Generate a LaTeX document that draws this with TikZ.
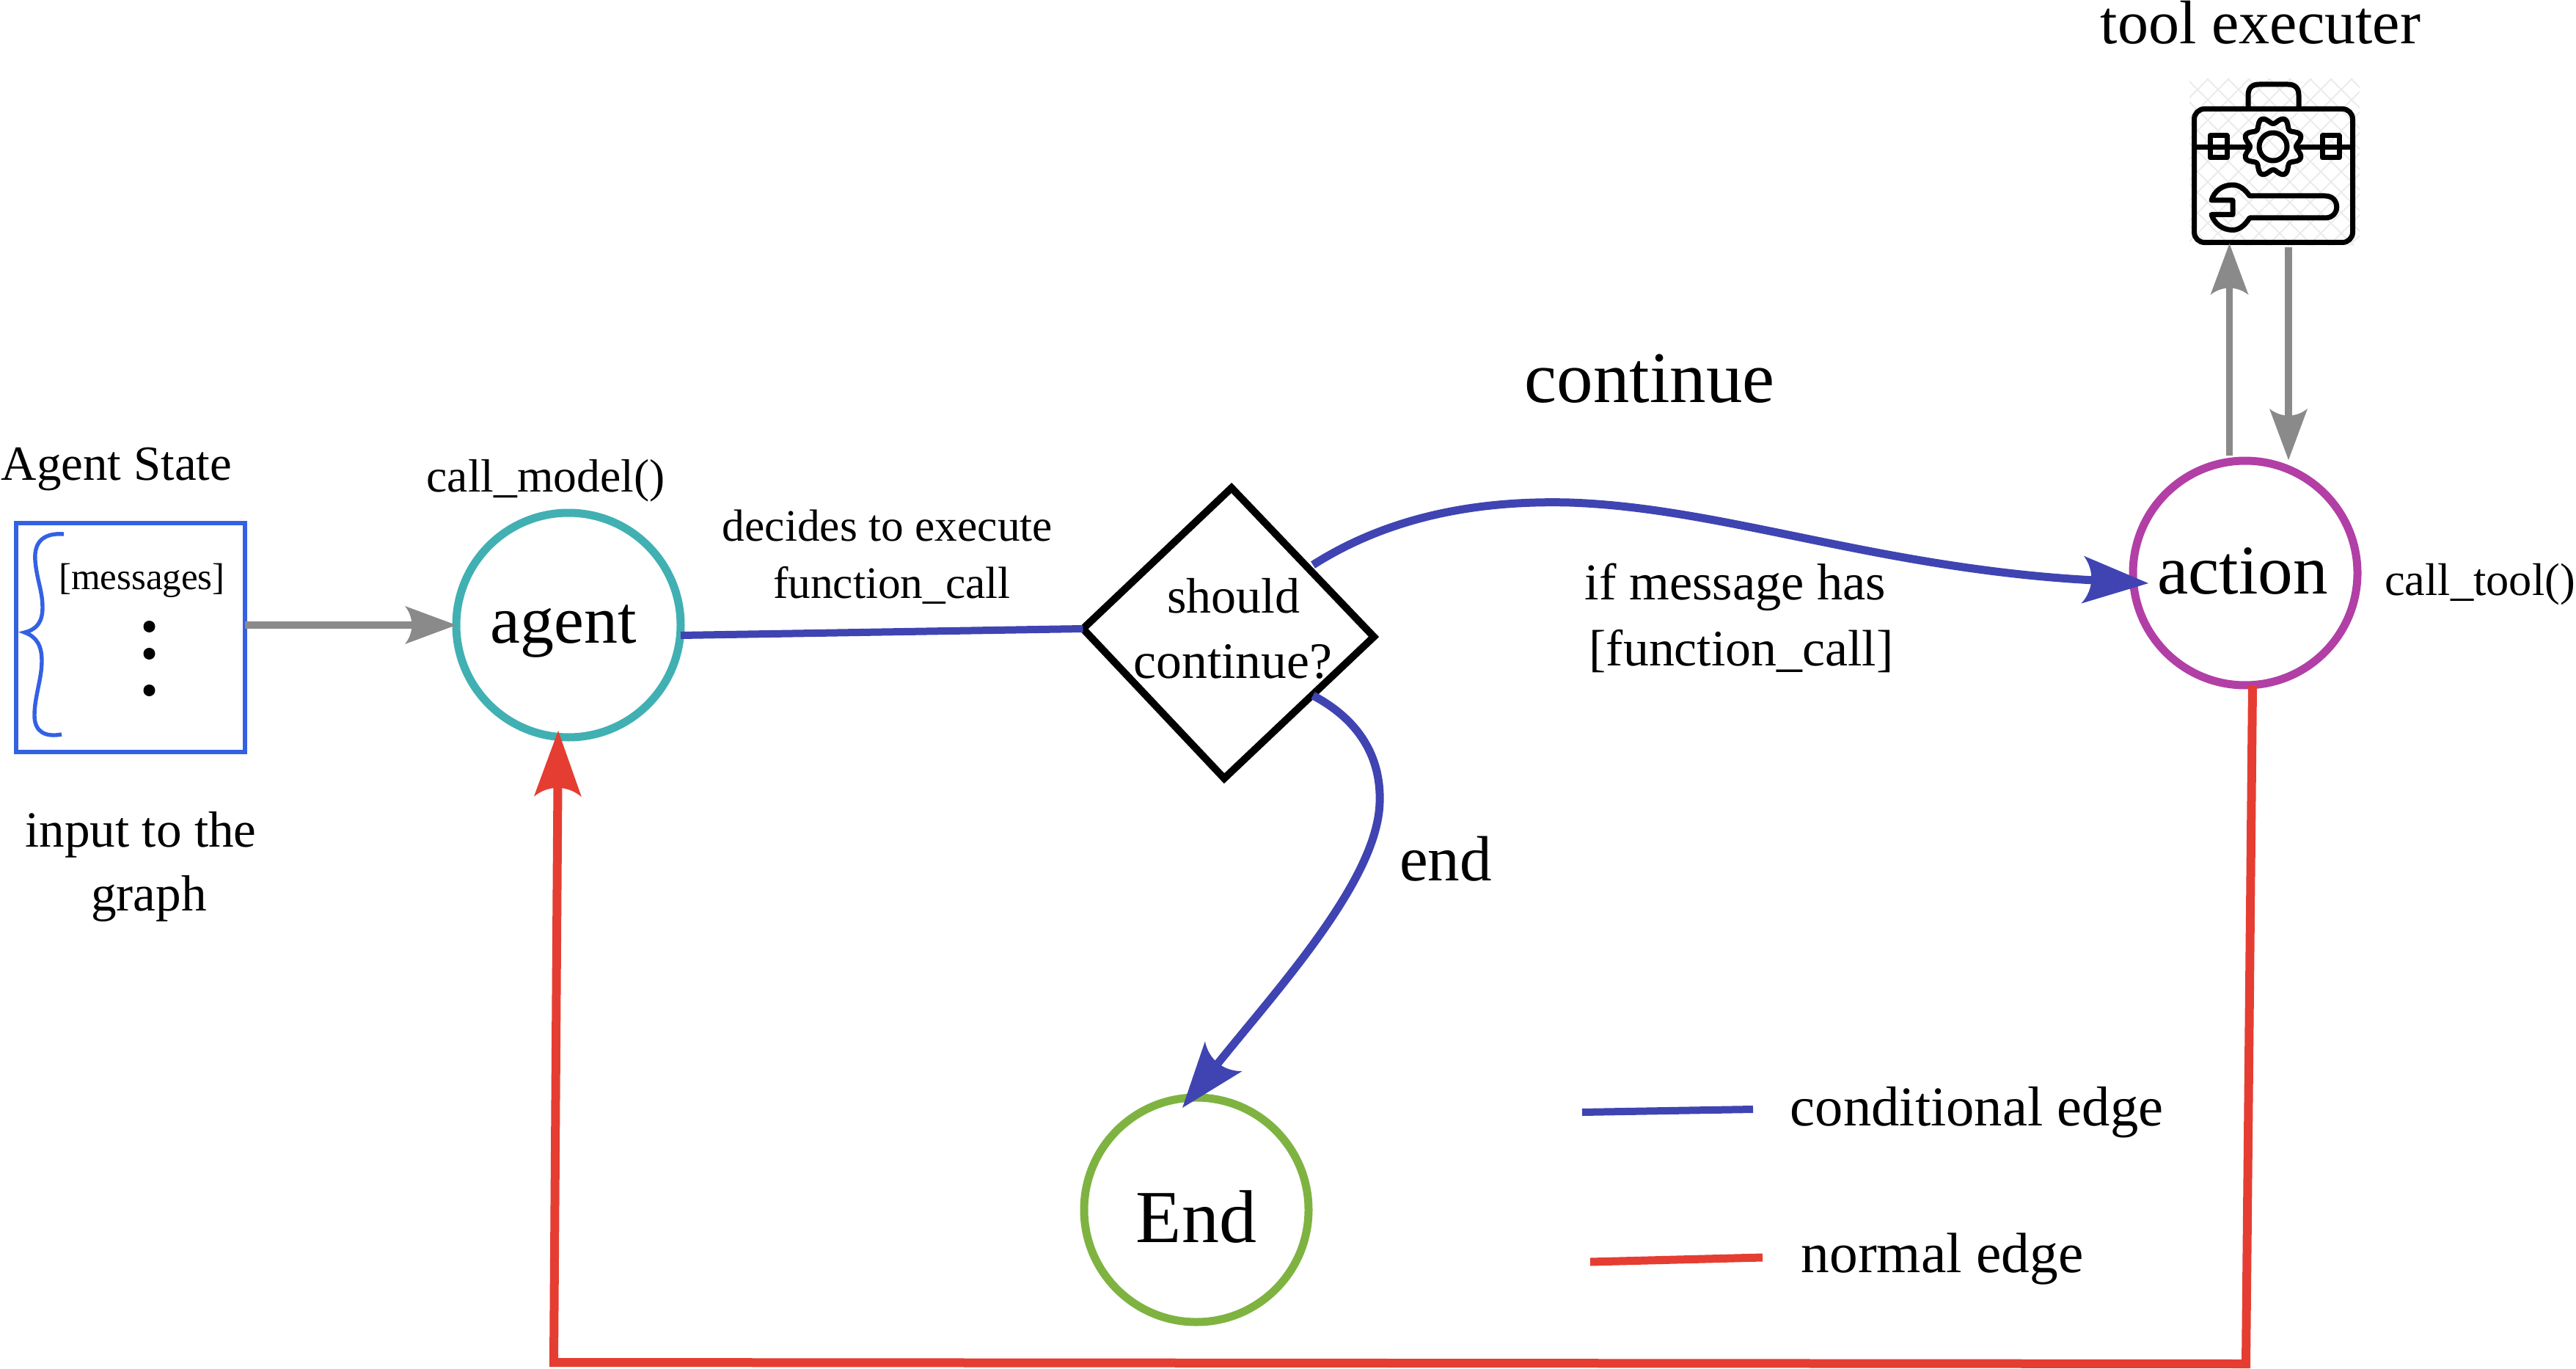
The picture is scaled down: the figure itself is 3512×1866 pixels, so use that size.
\documentclass[tikz,border=0pt]{standalone}
\usepackage{fontspec}
\setmainfont{Liberation Serif}
\usetikzlibrary{arrows.meta}
\definecolor{edgeblue}{HTML}{3F44B2}
\definecolor{edgered}{HTML}{E53D32}
\definecolor{edgegrey}{HTML}{8A8A8A}
\definecolor{boxblue}{HTML}{3461E3}
\definecolor{agentteal}{HTML}{41B0B3}
\definecolor{actionpurple}{HTML}{B23FA5}
\definecolor{endgreen}{HTML}{7FB341}
\newcommand\fsz[1]{\fontsize{#1}{#1}\selectfont}
\newcommand\drop[2]{\raisebox{0pt}[#1][0pt]{#2}}
\pgfdeclarearrow{
  name=CurvedBack,
  parameters={\the\pgfarrowlength,\the\pgfarrowwidth},
  setup code={
    \pgfarrowssettipend{0pt}
    \pgfarrowssetlineend{-0.85\pgfarrowlength}
    \pgfarrowssetbackend{-\pgfarrowlength}
    \pgfarrowssetvisualbackend{-0.85\pgfarrowlength}
    \pgfarrowssavethe\pgfarrowlength
    \pgfarrowssavethe\pgfarrowwidth
  },
  drawing code={
    \pgfpathmoveto{\pgfqpoint{0pt}{0pt}}
    \pgfpathlineto{\pgfpoint{-\pgfarrowlength}{0.5\pgfarrowwidth}}
    \pgfpathcurveto
      {\pgfpoint{-0.82\pgfarrowlength}{0.2\pgfarrowwidth}}
      {\pgfpoint{-0.82\pgfarrowlength}{-0.2\pgfarrowwidth}}
      {\pgfpoint{-\pgfarrowlength}{-0.5\pgfarrowwidth}}
    \pgfpathclose
    \pgfusepathqfill
  },
  defaults={length=45pt,width=32pt}
}
\tikzset{
  lab/.style={inner sep=0pt,outer sep=0pt,anchor=base,text=black},
  statecircle/.style={circle,draw=#1,line width=5.5pt,minimum size=153pt,inner sep=0pt,outer sep=0pt,text=black},
  greyedge/.style={draw=edgegrey,line width=4.8pt,-{CurvedBack[length=35pt,width=26pt]}},
  blueedge/.style={draw=edgeblue,line width=5pt},
  blueedgetip/.style={draw=edgeblue,line width=5.5pt,-{CurvedBack[length=45pt,width=32.5pt]}},
  rededge/.style={draw=edgered,line width=6pt},
  icon/.style={draw=black,line width=3.5pt,line join=round,line cap=round},
}
\begin{document}
\begin{tikzpicture}[x=.5pt,y=-.5pt]
\useasboundingbox (0,0) rectangle (3512,1866);
% toolbox background hatch
\begin{scope}
\clip (2985,108) rectangle (3217,335);
\foreach \o in {0,28,...,560}{
  \draw[draw=black!8,line width=1pt] (2750+\o,100) -- (2750+\o+240,340);
  \draw[draw=black!8,line width=1pt] (2990+\o,100) -- (2990+\o-240,340);
}
\end{scope}
% toolbox icon
\node[inner sep=0pt,outer sep=0pt,minimum width=108pt,minimum height=91pt,draw=black,line width=3.5pt,rounded corners=7pt] (tool) at (3099.5,239.5) {};
\draw[icon] (3065,148) -- (3065,130) .. controls (3065,120) and (3070,115) .. (3080,115) -- (3119,115) .. controls (3129,115) and (3134,120) .. (3134,130) -- (3134,148);
\draw[icon] (2995,201) -- (3062,201);
\draw[icon] (3137,201) -- (3204,201);
\draw[icon] (3013,185) rectangle (3036,215);
\draw[icon] (3166,185) rectangle (3189,215);
\draw[icon] plot[domain=0:360,samples=145] ({3099+(36-4.5*cos(8*\x))*cos(\x)},{200+(36-4.5*cos(8*\x))*sin(\x)}) -- cycle;
\draw[icon] (3099,200) circle (19);
\draw[icon] (3067,267) -- (3170,267) .. controls (3191,267) and (3191,297) .. (3170,297) -- (3067,297)
  .. controls (3060,308) and (3052,313.5) .. (3044,313.5) .. controls (3030,313.5) and (3019,305) .. (3015,292.5)
  -- (3044,292.5) -- (3044,273) -- (3015,273) .. controls (3019,260) and (3030,252) .. (3044,252) .. controls (3052,252) and (3060,257) .. (3067,267) -- cycle;

% state box
\node[draw=boxblue,line width=3.4pt,minimum size=156pt,inner sep=0pt,outer sep=0pt] (state) at (178,869) {};
\draw[draw=boxblue,line width=2.7pt] (87,728) .. controls (60,726) and (46,738) .. (48,764) .. controls (50,790) and (58,805) .. (58,828) .. controls (58,848) and (50,858) .. (33.5,862)
  .. controls (50,868) and (57,880) .. (57,901) .. controls (57,925) and (47,950) .. (47,975) .. controls (47,998) and (62,1005) .. (84,1001);
\node[lab] (msg) at (193.5,803) {\fsz{25.5}[messages]};
\foreach \n/\yy in {a/854,b/891,c/941}{\fill[black] (203.5,\yy) circle (8);}

% nodes
\node[statecircle=agentteal] (agent) at (775,852) {\fsz{46}\kern-7pt\drop{24pt}{agent}};
\node[statecircle=actionpurple] (action) at (3061,781) {\fsz{47.6}\kern-3.5pt\drop{28pt}{action}};
\node[statecircle=endgreen] (end) at (1631,1649) {\fsz{51}\drop{44pt}{End}};

% decision diamond
\coordinate (dl) at (1476.5,857);
\coordinate (dt) at (1679,665);
\coordinate (dr) at (1873,868);
\coordinate (db) at (1669,1061);
\draw[draw=black,line width=5pt,line join=miter] (dl) -- (dt) -- (dr) -- (db) -- cycle;
\node[lab] (should) at (1682,835) {\fsz{34}should};
\node[lab] (cont) at (1681,924) {\fsz{34.8}continue?};

% connector end points
\coordinate (cstart) at (1790,770);
\coordinate (cmid) at (2140,685);
\coordinate (ctip) at (2929,795);
\coordinate (estart) at (1790,948);
\coordinate (emid) at (1881,1094);
\coordinate (etip) at (1612,1510);
\coordinate (lb1) at (2157,1516);
\coordinate (lb2) at (2390,1512);
\coordinate (lr1) at (2168,1720);
\coordinate (lr2) at (2403,1714);
\coordinate (r1) at (3071,934);
\coordinate (r2) at (3062,1859);
\coordinate (r3) at (755,1857);
\coordinate (r4) at (761,996);
\coordinate (g1a) at (3039.5,621);
\coordinate (g1b) at (3039.5,332);
\coordinate (g2a) at (3120,337);
\coordinate (g2b) at (3120,627);

% connectors
\draw[greyedge] (state.east |- agent.west) -- (agent.west);
\draw[greyedge] (g1a) -- (g1b);
\draw[greyedge] (g2a) -- (g2b);
\draw[blueedge] (agent.east) ++(0,14) -- (dl);
\draw[blueedgetip] (cstart) .. controls (1900,700) and (2025,682) .. (cmid) .. controls (2350,692) and (2560,775) .. (ctip);
\draw[blueedgetip] (estart) .. controls (1860,985) and (1883,1040) .. (emid) .. controls (1878,1200) and (1740,1350) .. (etip);
\draw[rededge,line join=miter,-{CurvedBack[length=45pt,width=32.5pt]}] (r1) -- (r2) -- (r3) -- (r4);
\draw[blueedge] (lb1) -- (lb2);
\draw[rededge,line width=5.5pt] (lr1) -- (lr2);

% labels
\node[lab] (toolt) at (3082,60) {\fsz{42}tool executer};
\node[lab] (stt) at (159,654) {\fsz{33.5}Agent State};
\node[lab] (callm) at (744,670) {\fsz{31.8}call\_model()};
\node[lab] (inp1) at (192,1154) {\fsz{34.6}input to the};
\node[lab] (inp2) at (203,1241) {\fsz{34.6}graph};
\node[lab] (dec1) at (1210,737) {\fsz{30.7}decides to execute};
\node[lab] (dec2) at (1216,815) {\fsz{30.7}function\_call};
\node[lab] (conttitle) at (2249,549) {\fsz{49.5}continue};
\node[lab] (if1) at (2366,817) {\fsz{35.2}if message has};
\node[lab] (if2) at (2374,907) {\fsz{34.9}[function\_call]};
\node[lab] (callt) at (3381,811) {\fsz{31.2}call\_tool()};
\node[lab] (endl) at (1971,1200) {\fsz{43.6}end};
\node[lab] (legc) at (2695,1534) {\fsz{38.3}conditional edge};
\node[lab] (legn) at (2648,1734) {\fsz{38.7}normal edge};
\end{tikzpicture}
\end{document}
